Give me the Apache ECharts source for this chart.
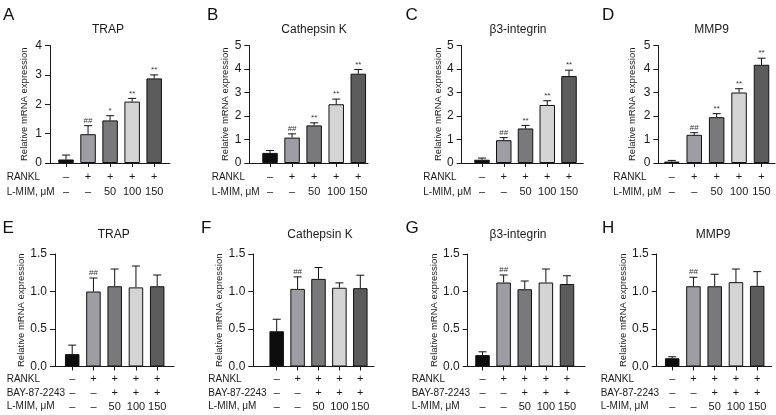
<!DOCTYPE html>
<html><head><meta charset="utf-8">
<script src="https://cdn.jsdelivr.net/npm/echarts@6/dist/echarts.min.js"></script>
<style>html,body{margin:0;padding:0;background:#fff}#c{width:776px;height:415px}</style>
</head><body><div id="c"></div>
<script>
// ---------------- data ----------------
const groupIndex = [0, 1, 2, 3, 4];
const ranklSigns = ['–', '+', '+', '+', '+'];
const baySigns = ['–', '–', '+', '+', '+'];
const lmimDoses = ['–', '–', '50', '100', '150'];
const rowLabelsTop = ['RANKL', 'L-MIM, μM'];
const rowLabelsBottom = ['RANKL', 'BAY-87-2243', 'L-MIM, μM'];
const panelLetters = ['A', 'B', 'C', 'D', 'E', 'F', 'G', 'H'];
const panelTitles = ['TRAP', 'Cathepsin K', 'β3-integrin', 'MMP9', 'TRAP', 'Cathepsin K', 'β3-integrin', 'MMP9'];
const yAxisName = 'Relative mRNA expression';
const yMax = [4, 5, 5, 5, 1.5, 1.5, 1.5, 1.5];
const yInterval = [1, 1, 1, 1, 0.5, 0.5, 0.5, 0.5];

const trapMean = [0.12, 0.98, 1.45, 2.09, 2.88];
const trapErr = [0.27, 1.27, 1.61, 2.20, 3.00];
const trapStars = ['', '##', '*', '**', '**'];
const ctskMean = [0.43, 1.08, 1.60, 2.50, 3.80];
const ctskErr = [0.53, 1.24, 1.71, 2.72, 3.98];
const ctskStars = ['', '##', '**', '**', '**'];
const itgb3Mean = [0.14, 0.97, 1.47, 2.47, 3.70];
const itgb3Err = [0.21, 1.08, 1.60, 2.65, 3.95];
const itgb3Stars = ['', '##', '**', '**', '**'];
const mmp9Mean = [0.06, 1.20, 1.95, 3.00, 4.18];
const mmp9Err = [0.11, 1.29, 2.10, 3.16, 4.46];
const mmp9Stars = ['', '##', '**', '**', '**'];

const bayTrapMean = [0.165, 1.00, 1.07, 1.055, 1.07];
const bayTrapErr = [0.285, 1.18, 1.30, 1.34, 1.22];
const bayCtskMean = [0.47, 1.035, 1.168, 1.05, 1.044];
const bayCtskErr = [0.63, 1.195, 1.32, 1.115, 1.217];
const bayItgb3Mean = [0.152, 1.12, 1.03, 1.12, 1.10];
const bayItgb3Err = [0.196, 1.22, 1.14, 1.30, 1.21];
const bayMmp9Mean = [0.11, 1.07, 1.07, 1.125, 1.075];
const bayMmp9Err = [0.13, 1.19, 1.23, 1.30, 1.265];
const bayStars = ['', '##', '', '', ''];

const panelMeans = [trapMean, ctskMean, itgb3Mean, mmp9Mean, bayTrapMean, bayCtskMean, bayItgb3Mean, bayMmp9Mean];
const panelErrs = [trapErr, ctskErr, itgb3Err, mmp9Err, bayTrapErr, bayCtskErr, bayItgb3Err, bayMmp9Err];
const panelStars = [trapStars, ctskStars, itgb3Stars, mmp9Stars, bayStars, bayStars, bayStars, bayStars];

// ---------------- layout / style ----------------
const FONT = 'Liberation Sans, Arial, Helvetica, sans-serif';
const palette = ['#0d0d0d', '#9d9da3', '#79797b', '#d4d4d4', '#5c5c5c'];
const INK = '#1a1a1a';
// L: y-axis x, R: x-axis end, c0/c4: first/last bar centre
const layout = [
  {L: 50,    R: 170,   c0: 66,    c4: 154.2, gap: 21, tx: 108,   lx: 3,     rx: 6.7},
  {L: 249.3, R: 368,   c0: 270,   c4: 358.3, gap: 18, tx: 314,   lx: 207,   rx: 211.7},
  {L: 461.7, R: 583.3, c0: 482,   c4: 569,   gap: 17, tx: 518,   lx: 405.5, rx: 423.3},
  {L: 658.3, R: 775,   c0: 671.8, c4: 761.5, gap: 21, tx: 711.7, lx: 602,   rx: 613.3},
  {L: 55,    R: 174,   c0: 72.2,  c4: 157.2, gap: 26, tx: 113.7, lx: 2.5,   rx: 6.7},
  {L: 253.3, R: 374,   c0: 276.7, c4: 360.3, gap: 21, tx: 320,   lx: 201,   rx: 208.3},
  {L: 467.7, R: 585,   c0: 482.5, c4: 567,   gap: 22, tx: 518,   lx: 405.5, rx: 411.7},
  {L: 656.7, R: 771.7, c0: 672.2, c4: 757.2, gap: 22, tx: 713,   lx: 602,   rx: 600.7}
];
const rowGeom = [
  {top: 45.5, bottom: 163, titleY: 29.3, letterY: 15, lh: 15.5, barW: 15.5, rows: [ranklSigns, lmimDoses], rowLabels: rowLabelsTop, rowY: [177, 192.5]},
  {top: 254, bottom: 366.5, titleY: 234.3, letterY: 228.5, lh: 13.7, barW: 14.5, rows: [ranklSigns, baySigns, lmimDoses], rowLabels: rowLabelsBottom, rowY: [379.3, 392.9, 406.7]}
];

const grids = [], xAxes = [], yAxes = [], series = [], graphics = [];
layout.forEach((g, i) => {
  const rg = rowGeom[i < 4 ? 0 : 1];
  const s = (g.c4 - g.c0) / 4;
  grids.push({left: g.L, top: rg.top, width: g.R - g.L, height: rg.bottom - rg.top});
  xAxes.push({
    gridIndex: i, type: 'value',
    min: -(g.c0 - g.L) / s, max: 4 + (g.R - g.c4) / s,
    axisLine: {show: true, onZero: false, lineStyle: {color: INK, width: 1}},
    axisTick: {show: true, customValues: groupIndex, length: 4, lineStyle: {color: INK, width: 1}},
    axisLabel: {
      customValues: groupIndex, fontSize: 11, lineHeight: rg.lh, margin: 6, color: INK, fontFamily: FONT,
      formatter: v => rg.rows.map(r => r[Math.round(v)]).join('\n')
    },
    splitLine: {show: false}
  });
  yAxes.push({
    gridIndex: i, type: 'value', min: 0, max: yMax[i], interval: yInterval[i],
    axisLine: {show: true, onZero: false, lineStyle: {color: INK, width: 1}},
    axisTick: {show: true, length: 5, lineStyle: {color: INK, width: 1}},
    axisLabel: {fontSize: 12, margin: 8, color: INK, fontFamily: FONT,
      formatter: v => (i < 4 ? String(v) : v.toFixed(1))},
    splitLine: {show: false},
    name: yAxisName, nameLocation: 'middle', nameGap: g.gap,
    nameTextStyle: {fontSize: 9.5, color: INK, fontFamily: FONT}
  });
  const mean = panelMeans[i], err = panelErrs[i], stars = panelStars[i];
  series.push({
    type: 'bar', xAxisIndex: i, yAxisIndex: i, barWidth: rg.barW, silent: true,
    data: groupIndex.map(k => [k, mean[k]]),
    itemStyle: {color: p => palette[p.dataIndex], borderColor: '#111', borderWidth: 1}
  });
  series.push({
    type: 'custom', xAxisIndex: i, yAxisIndex: i, silent: true, z: 5,
    data: groupIndex.map(k => [k, mean[k], err[k]]),
    renderItem: (params, api) => {
      const p0 = api.coord([api.value(0), api.value(1)]);
      const p1 = api.coord([api.value(0), api.value(2)]);
      const mark = stars[params.dataIndex];
      return {type: 'group', children: [
        {type: 'line', shape: {x1: p0[0], y1: p0[1], x2: p1[0], y2: p1[1]}, style: {stroke: '#111', lineWidth: 1}},
        {type: 'line', shape: {x1: p1[0] - 4, y1: p1[1], x2: p1[0] + 4, y2: p1[1]}, style: {stroke: '#111', lineWidth: 1}},
        {type: 'text', style: {text: mark, x: p1[0], y: p1[1] - 1, align: 'center', verticalAlign: 'bottom',
          textAlign: 'center', textVerticalAlign: 'bottom', fontSize: 8, fontFamily: FONT, fill: '#333'}}
      ]};
    }
  });
  graphics.push({type: 'text', x: g.tx, y: rg.titleY, style: {text: panelTitles[i], fontSize: 12, fontFamily: FONT, fill: INK,
    align: 'center', verticalAlign: 'middle', textAlign: 'center', textVerticalAlign: 'middle'}});
  graphics.push({type: 'text', x: g.lx, y: rg.letterY, style: {text: panelLetters[i], fontSize: 17, fontFamily: FONT, fill: '#111',
    align: 'left', verticalAlign: 'middle', textAlign: 'left', textVerticalAlign: 'middle'}});
  rg.rowLabels.forEach((t, r) => {
    graphics.push({type: 'text', x: g.rx, y: rg.rowY[r], style: {text: t, fontSize: 10, fontFamily: FONT, fill: INK,
      align: 'left', verticalAlign: 'middle', textAlign: 'left', textVerticalAlign: 'middle'}});
  });
});

const chart = echarts.init(document.getElementById('c'), null, {renderer: 'canvas'});
chart.setOption({
  backgroundColor: '#fff',
  animation: false,
  textStyle: {fontFamily: FONT},
  grid: grids, xAxis: xAxes, yAxis: yAxes, series: series,
  graphic: graphics
});
</script></body></html>
